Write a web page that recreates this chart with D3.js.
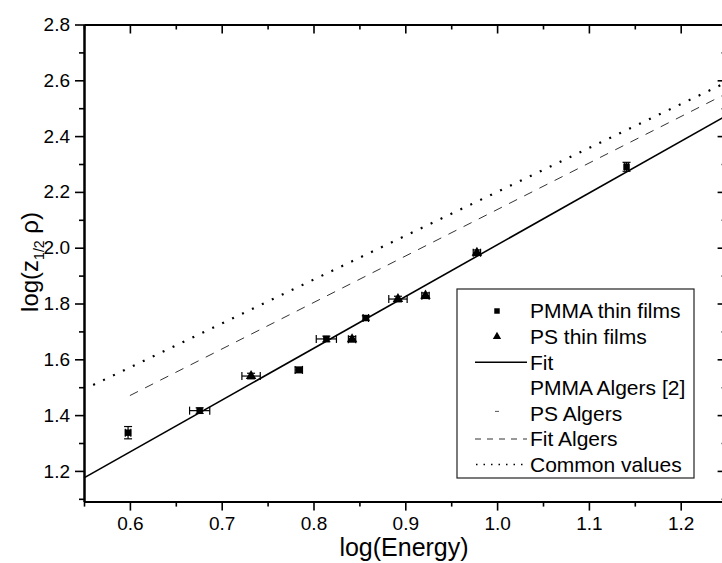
<!DOCTYPE html>
<html>
<head>
<meta charset="utf-8">
<script src="https://cdn.jsdelivr.net/npm/d3@7"></script>
<style>
  body { margin: 0; background: #fff; }
  text { font-family: "Liberation Sans", Arial, sans-serif; fill: #000; }
</style>
</head>
<body>
<script>
// measured points (log energy, log z*rho) with error bars
const pmmaX = [0.598, 0.676, 0.784, 0.814, 0.857, 1.141];
const pmmaY = [1.337, 1.416, 1.562, 1.673, 1.748, 2.290];
const pmmaXErr = [0.003, 0.011, 0.004, 0.011, 0.003, 0.002];
const pmmaYErr = [0.022, 0.010, 0.010, 0.010, 0.008, 0.016];

const psX = [0.732, 0.842, 0.892, 0.922, 0.978];
const psY = [1.540, 1.672, 1.816, 1.828, 1.982];
const psXErr = [0.010, 0.004, 0.010, 0.004, 0.004];
const psYErr = [0.010, 0.010, 0.010, 0.010, 0.010];

// lines
const fitX = [0.55, 1.25];
const fitY = [1.175, 2.474];
const fitAlgersX = [0.60, 1.25];
const fitAlgersY = [1.470, 2.553];
const commonX = [0.56, 1.25];
const commonY = [1.508, 2.593];

const xTicks = [0.6, 0.7, 0.8, 0.9, 1.0, 1.1, 1.2];
const xMinor = [0.55, 0.65, 0.75, 0.85, 0.95, 1.05, 1.15, 1.25];
const yTicks = [1.2, 1.4, 1.6, 1.8, 2.0, 2.2, 2.4, 2.6, 2.8];
const yMinor = [1.1, 1.3, 1.5, 1.7, 1.9, 2.1, 2.3, 2.5, 2.7];

const legendLabels = ["PMMA thin films", "PS thin films", "Fit", "PMMA Algers [2]",
                      "PS Algers", "Fit Algers", "Common values"];

const width = 722, height = 563;
const svg = d3.select("body").append("svg")
    .attr("width", width)
    .attr("height", height);

const x = d3.scaleLinear().domain([0.55, 1.25]).range([84, 726.6]);
const y = d3.scaleLinear().domain([1.09, 2.8]).range([501.6, 24.5]);
const x0 = x.range()[0], x1 = x.range()[1];
const y0 = y.range()[0], y1 = y.range()[1];

// axes
function styleAxis(g) {
    g.select(".domain").attr("stroke", "#000").attr("stroke-width", 2);
    g.selectAll(".tick line").attr("stroke", "#000").attr("stroke-width", 1.6);
    g.selectAll(".tick text").style("font-size", "19px").attr("fill", "#000");
}

svg.append("g").attr("transform", `translate(0,${y0})`)
    .call(d3.axisBottom(x).tickValues(xMinor).tickSize(5).tickSizeOuter(0).tickFormat(""))
    .call(styleAxis);
svg.append("g").attr("transform", `translate(0,${y0})`)
    .call(d3.axisBottom(x).tickValues(xTicks).tickSize(9).tickSizeOuter(0).tickPadding(6)
        .tickFormat(d3.format(".1f")))
    .call(styleAxis);

svg.append("g").attr("transform", `translate(0,${y1})`)
    .call(d3.axisTop(x).tickValues(xMinor).tickSize(-5).tickSizeOuter(0).tickFormat(""))
    .call(styleAxis);
svg.append("g").attr("transform", `translate(0,${y1})`)
    .call(d3.axisTop(x).tickValues(xTicks).tickSize(-9).tickSizeOuter(0).tickFormat(""))
    .call(styleAxis);

svg.append("g").attr("transform", `translate(${x0},0)`)
    .call(d3.axisLeft(y).tickValues(yMinor).tickSize(5).tickSizeOuter(0).tickFormat(""))
    .call(styleAxis);
svg.append("g").attr("transform", `translate(${x0},0)`)
    .call(d3.axisLeft(y).tickValues(yTicks).tickSize(9).tickSizeOuter(0).tickPadding(5)
        .tickFormat(d3.format(".1f")))
    .call(styleAxis);

svg.append("g").attr("transform", `translate(${x1},0)`)
    .call(d3.axisRight(y).tickValues(yMinor).tickSize(-5).tickSizeOuter(0).tickFormat(""))
    .call(styleAxis);
svg.append("g").attr("transform", `translate(${x1},0)`)
    .call(d3.axisRight(y).tickValues(yTicks).tickSize(-9).tickSizeOuter(0).tickFormat(""))
    .call(styleAxis);

// axis titles
svg.append("text")
    .attr("x", 404).attr("y", 556)
    .attr("text-anchor", "middle")
    .style("font-size", "25px")
    .text("log(Energy)");

const yl = svg.append("text")
    .attr("transform", "translate(38,262) rotate(-90)")
    .attr("text-anchor", "middle")
    .style("font-size", "24px");
yl.append("tspan").text("log(z");
yl.append("tspan").attr("dy", 6).style("font-size", "14px").text("1/2");
yl.append("tspan").attr("dy", -6).text(" ρ)");

// lines
const line = d3.line().x(d => x(d[0])).y(d => y(d[1]));
const plot = svg.append("g");

plot.append("path")
    .attr("d", line(d3.zip(commonX, commonY)))
    .attr("fill", "none").attr("stroke", "#000").attr("stroke-width", 2.2)
    .attr("stroke-dasharray", "2,9");
plot.append("path")
    .attr("d", line(d3.zip(fitAlgersX, fitAlgersY)))
    .attr("fill", "none").attr("stroke", "#333").attr("stroke-width", 1)
    .attr("stroke-dasharray", "9,8");
plot.append("path")
    .attr("d", line(d3.zip(fitX, fitY)))
    .attr("fill", "none").attr("stroke", "#000").attr("stroke-width", 1.6);

// error bars + markers
function drawSeries(xs, ys, xe, ye, shape) {
    const data = xs.map((v, i) => ({x: v, y: ys[i], xe: xe[i], ye: ye[i]}));
    const g = plot.append("g").selectAll("g").data(data).enter().append("g")
        .attr("stroke", "#000").attr("stroke-width", 1.2);
    g.append("line")
        .attr("x1", d => x(d.x - d.xe)).attr("x2", d => x(d.x + d.xe))
        .attr("y1", d => y(d.y)).attr("y2", d => y(d.y));
    g.append("line")
        .attr("x1", d => x(d.x - d.xe)).attr("x2", d => x(d.x - d.xe))
        .attr("y1", d => y(d.y) - 4).attr("y2", d => y(d.y) + 4);
    g.append("line")
        .attr("x1", d => x(d.x + d.xe)).attr("x2", d => x(d.x + d.xe))
        .attr("y1", d => y(d.y) - 4).attr("y2", d => y(d.y) + 4);
    g.append("line")
        .attr("x1", d => x(d.x)).attr("x2", d => x(d.x))
        .attr("y1", d => y(d.y + d.ye)).attr("y2", d => y(d.y - d.ye));
    g.append("line")
        .attr("x1", d => x(d.x) - 4).attr("x2", d => x(d.x) + 4)
        .attr("y1", d => y(d.y + d.ye)).attr("y2", d => y(d.y + d.ye));
    g.append("line")
        .attr("x1", d => x(d.x) - 4).attr("x2", d => x(d.x) + 4)
        .attr("y1", d => y(d.y - d.ye)).attr("y2", d => y(d.y - d.ye));
    g.append("path")
        .attr("transform", d => `translate(${x(d.x)},${y(d.y)})`)
        .attr("d", d3.symbol().type(shape).size(shape === d3.symbolSquare ? 42 : 48))
        .attr("fill", "#000").attr("stroke", "none");
}
drawSeries(pmmaX, pmmaY, pmmaXErr, pmmaYErr, d3.symbolSquare);
drawSeries(psX, psY, psXErr, psYErr, d3.symbolTriangle);

// legend
const lg = svg.append("g");
lg.append("rect")
    .attr("x", 457).attr("y", 289).attr("width", 237).attr("height", 189)
    .attr("fill", "#fff").attr("stroke", "#222").attr("stroke-width", 1.2);
const rowY = i => 311 + i * 25.6;
lg.selectAll("text").data(legendLabels).enter().append("text")
    .attr("x", 530).attr("y", (d, i) => rowY(i))
    .attr("dy", "0.35em")
    .style("font-size", "21px")
    .text(d => d);
lg.append("path").attr("transform", `translate(497,${rowY(0)})`)
    .attr("d", d3.symbol().type(d3.symbolSquare).size(30)).attr("fill", "#000");
lg.append("path").attr("transform", `translate(497,${rowY(1)})`)
    .attr("d", d3.symbol().type(d3.symbolTriangle).size(30)).attr("fill", "#000");
lg.append("line").attr("x1", 475).attr("x2", 527).attr("y1", rowY(2)).attr("y2", rowY(2))
    .attr("stroke", "#000").attr("stroke-width", 1.4);
lg.append("line").attr("x1", 495).attr("x2", 499).attr("y1", rowY(4) - 2).attr("y2", rowY(4) - 2)
    .attr("stroke", "#555").attr("stroke-width", 1);
lg.append("line").attr("x1", 475).attr("x2", 527).attr("y1", rowY(5)).attr("y2", rowY(5))
    .attr("stroke", "#333").attr("stroke-width", 1).attr("stroke-dasharray", "6,6");
lg.append("line").attr("x1", 476).attr("x2", 527).attr("y1", rowY(6)).attr("y2", rowY(6))
    .attr("stroke", "#000").attr("stroke-width", 1.5).attr("stroke-dasharray", "1.5,6");
</script>
</body>
</html>
